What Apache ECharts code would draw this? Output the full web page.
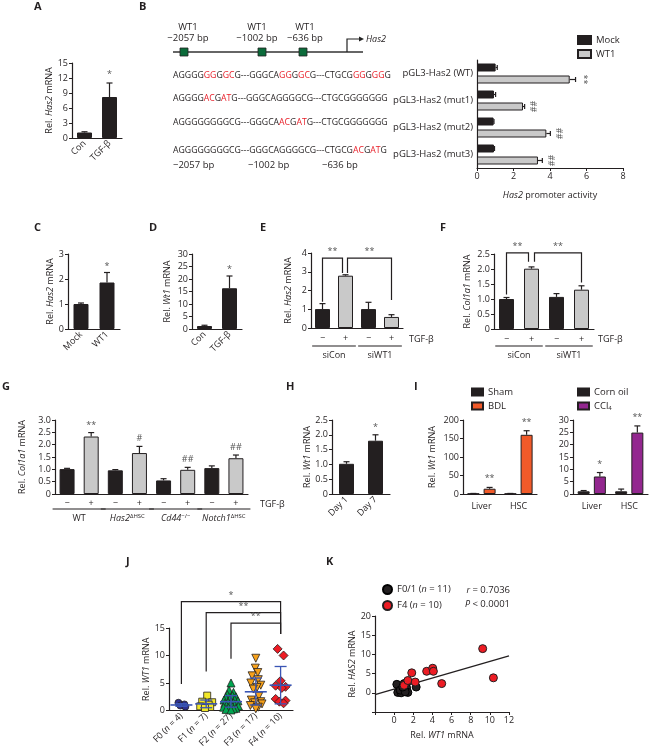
<!DOCTYPE html>
<html><head><meta charset="utf-8">
<script src="https://cdn.jsdelivr.net/npm/echarts@6/dist/echarts.min.js"></script>
<style>html,body{margin:0;padding:0;background:#fff}#c{width:650px;height:750px}</style>
</head><body><div id="c"></div>
<script>
// ================= DATA =================
// A
const aCats = ['Con', 'TGF-β'];
const aVals = [1.1, 8.2];
const aErr = [0.15, 2.8];
const aStars = ['', '*'];
// B
const bCats = ['pGL3-Has2 (WT)', 'pGL3-Has2 (mut1)', 'pGL3-Has2 (mut2)', 'pGL3-Has2 (mut3)'];
const bMock = [1.02, 0.93, 0.91, 0.93];
const bMockErr = [0.09, 0.09, 0.02, 0.03];
const bWT1 = [5.08, 2.52, 3.8, 3.34];
const bWT1Err = [0.32, 0.09, 0.22, 0.24];
const bMarks = ['**', '##', '##', '##'];
const seqRows = [
  'AGGGG{r|GG}G{r|GC}G---GGGCA{r|GG}G{r|GC}G---CTGCG{r|GG}G{r|GG}G',
  'AGGGG{r|AC}G{r|AT}G---GGGCAGGGGCG---CTGCGGGGGGG',
  'AGGGGGGGGCG---GGGCA{r|AC}G{r|AT}G---CTGCGGGGGGG',
  'AGGGGGGGGCG---GGGCAGGGGCG---CTGCG{r|AC}G{r|AT}G'
];
// C
const cCats = ['Mock', 'WT1'];
const cVals = [1.0, 1.86];
const cErr = [0.04, 0.4];
const cStars = ['', '*'];
// D
const dCats = ['Con', 'TGF-β'];
const dVals = [1.2, 16.3];
const dErr = [0.3, 4.9];
const dStars = ['', '*'];
// E
const eCats = ['−', '+', '−', '+'];
const eVals = [1.01, 2.79, 1.01, 0.59];
const eErr = [0.29, 0.05, 0.36, 0.12];
const eBrackets = [[0, 1.4, 1, 2.93, 3.73], [1, 2.93, 3, 1.5, 3.73]];
const eBracketText = ['**', '**'];
const eGroups = [[0, 1], [2, 3]];
const eGroupNames = ['siCon', 'siWT1'];
// F
const fCats = ['−', '+', '−', '+'];
const fVals = [1.0, 2.01, 1.07, 1.31];
const fErr = [0.05, 0.06, 0.11, 0.13];
const fBrackets = [[0, 1.15, 1, 2.24, 2.54], [1, 2.24, 3, 1.55, 2.54]];
const fBracketText = ['**', '**'];
const fGroups = [[0, 1], [2, 3]];
const fGroupNames = ['siCon', 'siWT1'];
// G
const gCats = ['−', '+', '−', '+', '−', '+', '−', '+'];
const gVals = [1.01, 2.33, 0.96, 1.66, 0.55, 0.98, 1.05, 1.45];
const gErr = [0.03, 0.16, 0.03, 0.27, 0.07, 0.1, 0.09, 0.13];
const gMarks = ['', '**', '', '#', '', '##', '', '##'];
const gGroups = [[0, 1], [2, 3], [4, 5], [6, 7]];
const gGroupNames = ['WT', '{i|Has2}{sup|ΔHSC}', '{i|Cd44}{sup|−/−}', '{i|Notch1}{sup|ΔHSC}'];
// H
const hCats = ['Day 1', 'Day 7'];
const hVals = [1.02, 1.8];
const hErr = [0.07, 0.2];
const hStars = ['', '*'];
// I
const iCats = ['Liver', 'HSC'];
const iSham = [1, 1];
const iShamErr = [0.5, 0.5];
const iBDL = [14.3, 160];
const iBDLErr = [3.5, 11];
const iBDLStars = ['**', '**'];
const iCorn = [1.1, 1.1];
const iCornErr = [0.3, 0.9];
const iCCl4 = [7.1, 24.9];
const iCCl4Err = [1.6, 2.7];
const iCCl4Stars = ['*', '**'];
// J
const jCats = ['F0', 'F1', 'F2', 'F3', 'F4'];
const jN = [4, 7, 27, 17, 10];
const jF0 = [1.4, 1.1, 0.9, 0.7];
const jF0dx = [-0.12, 0.12, -0.04, 0.16];
const jF1 = [2.7, 1.6, 1.5, 1.05, 0.75, 0.65, 0.45];
const jF1dx = [0.04, -0.16, 0.24, 0.1, -0.24, 0.16, -0.05];
const jF2 = [5.0, 3.7, 3.3, 2.9, 2.7, 2.5, 2.4, 2.1, 2.0, 1.9, 1.75, 1.6, 1.5, 1.4, 1.3, 1.2, 1.1, 1.0, 0.9, 0.8, 0.7, 0.6, 0.5, 0.4, 0.3, 0.2, 0.1];
const jF2dx = [0, -0.08, 0.1, -0.15, 0.06, 0.2, -0.22, -0.05, 0.15, -0.28, 0.28, 0.0, -0.12, 0.1, -0.25, 0.22, -0.02, 0.15, -0.18, 0.3, 0.05, -0.3, -0.1, 0.2, 0.1, -0.2, 0.0];
const jF3 = [9.5, 7.7, 6.9, 6.3, 5.6, 5.0, 4.6, 4.2, 3.9, 2.6, 1.9, 1.6, 1.4, 1.2, 0.9, 0.6, 0.3];
const jF3dx = [0.0, -0.02, 0.08, -0.15, 0.1, -0.2, 0.2, 0.05, -0.1, 0.12, -0.18, 0.2, -0.05, 0.25, -0.22, 0.1, 0.0];
const jF4 = [11.2, 10.0, 5.4, 4.5, 4.3, 4.1, 2.1, 1.8, 1.6, 1.3];
const jF4dx = [-0.12, 0.12, 0.0, -0.2, 0.2, 0.05, -0.2, 0.2, -0.05, 0.12];
const jMean = [1.0, 1.2, 1.6, 3.4, 4.6];
const jLo = [0.75, 0.5, 0.6, 1.0, 1.2];
const jHi = [1.25, 1.9, 2.7, 5.9, 8.0];
const jBrackets = [[0, 4.8, 4, 13.9, 19.8], [1, 7.1, 4, 13.9, 17.8], [2, 9.4, 4, 13.9, 15.9]];
const jBracketText = ['*', '**', '**'];
// K
const kF01 = [[0.28, 2.2], [0.38, 0.1], [0.73, 0.0], [1.04, 0.85], [1.04, 2.4], [1.3, 1.3], [1.43, 0.1], [2.3, 1.5], [0.63, 0.7], [1.15, 0.25], [0.9, 1.5]];
const kF4 = [[1.04, 1.95], [1.43, 3.2], [1.84, 5.2], [2.2, 2.8], [3.4, 5.6], [4.03, 6.4], [4.1, 5.6], [4.97, 2.4], [9.25, 11.5], [10.37, 3.9]];
const kFit = [[-2, -0.5], [12, 9.6]];
const kStats = ['{i|r} = 0.7036', '{i|P} < 0.0001'];

// ================= STYLE / HELPERS =================
const INK = '#231f20', DARK = '#231f20', LIGHT = '#c9c9c9', STAR = '#555';
const F = 'Open Sans';
const SEQ = 8.7;
const RICH = {
  i: {fontStyle: 'italic', fontFamily: F, fontSize: 9, color: INK, fill: INK},
  sup: {fontSize: 6, fontFamily: F, color: INK, fill: INK, verticalAlign: 'top'},
  sub: {fontSize: 6, fontFamily: F, color: INK, fill: INK, verticalAlign: 'bottom'},
  r: {fill: '#e8202a', color: '#e8202a', fontSize: SEQ, fontFamily: F}
};
const grids = [], xAxes = [], yAxes = [], series = [], legends = [], graphics = [];
function addGrid(left, top, width, height) { grids.push({left, top, width, height}); return grids.length - 1; }
function addX(ax) { xAxes.push(ax); return xAxes.length - 1; }
function addY(ax) { yAxes.push(ax); return yAxes.length - 1; }
function nameStyle() { return {fontSize: 9, color: INK, fontFamily: F, rich: RICH}; }
function valAxis(gi, min, max, interval, o = {}) {
  const ax = {type: 'value', gridIndex: gi, min, max, interval,
    axisLine: {show: true, onZero: false, lineStyle: {color: INK, width: 1.2}},
    axisTick: {show: true, length: 3, lineStyle: {color: INK, width: 1}},
    axisLabel: {fontSize: 9, color: INK, fontFamily: F, margin: 4},
    splitLine: {show: false}};
  if (o.fmt) ax.axisLabel.formatter = o.fmt;
  if (o.name) Object.assign(ax, {name: o.name, nameLocation: 'middle', nameGap: o.gap, nameRotate: o.rot, nameTextStyle: nameStyle()});
  return ax;
}
function catAxis(gi, data, o = {}) {
  const ax = {type: 'category', gridIndex: gi, data, inverse: !!o.inverse,
    axisTick: {show: false},
    axisLine: {show: true, onZero: false, lineStyle: {color: INK, width: 1.2}},
    axisLabel: {fontSize: o.fs || 9, color: INK, fontFamily: F, margin: o.margin || 4, interval: 0, rotate: o.rotate || 0, rich: RICH},
    splitLine: {show: false}};
  if (o.fmt) ax.axisLabel.formatter = o.fmt;
  return ax;
}
const fmt1 = v => (v === 0 ? '0' : v.toFixed(1));
function bars(xi, yi, vals, colors, o = {}) {
  return Object.assign({type: 'bar', xAxisIndex: xi, yAxisIndex: yi, barWidth: 15, silent: true,
    data: vals.map((v, k) => ({value: v, itemStyle: {color: colors[k % colors.length]}})),
    itemStyle: {borderColor: INK, borderWidth: 1}}, o);
}
function errV(xi, yi, vals, errs, off = 0, cap = 3) {
  return {type: 'custom', xAxisIndex: xi, yAxisIndex: yi, z: 3, silent: true,
    data: vals.map((v, k) => [k, v, v + errs[k]]),
    renderItem: (p, api) => {
      const a = api.coord([api.value(0), api.value(1)]), b = api.coord([api.value(0), api.value(2)]);
      const x = a[0] + off;
      return {type: 'group', children: [
        {type: 'line', shape: {x1: x, y1: a[1], x2: x, y2: b[1]}, style: {stroke: INK, lineWidth: 1.2}},
        {type: 'line', shape: {x1: x - cap, y1: b[1], x2: x + cap, y2: b[1]}, style: {stroke: INK, lineWidth: 1.2}}]};
    }};
}
function errH(xi, yi, vals, errs, off = 0, cap = 3) {
  return {type: 'custom', xAxisIndex: xi, yAxisIndex: yi, z: 3, silent: true,
    data: vals.map((v, k) => [v, k, v + errs[k]]),
    renderItem: (p, api) => {
      const a = api.coord([api.value(0), api.value(1)]), b = api.coord([api.value(2), api.value(1)]);
      const y = a[1] + off;
      return {type: 'group', children: [
        {type: 'line', shape: {x1: a[0], y1: y, x2: b[0], y2: y}, style: {stroke: INK, lineWidth: 1.2}},
        {type: 'line', shape: {x1: b[0], y1: y - cap, x2: b[0], y2: y + cap}, style: {stroke: INK, lineWidth: 1.2}}]};
    }};
}
function tStyle(text, o = {}) {
  const al = o.align || 'left', va = o.va || 'middle';
  return {text, fill: o.fill || INK, fontSize: o.fs || 9, fontFamily: F,
    fontStyle: o.italic ? 'italic' : 'normal', fontWeight: o.bold ? 'bold' : 'normal',
    align: al, textAlign: al, verticalAlign: va, textVerticalAlign: va, rich: RICH};
}
function marks(xi, yi, pts, texts, o = {}) {
  return {type: 'custom', xAxisIndex: xi, yAxisIndex: yi, z: 4, silent: true, clip: false,
    data: pts,
    renderItem: (p, api) => {
      const t = texts[p.dataIndex];
      if (!t) return null;
      const c = api.coord([api.value(0), api.value(1)]);
      return {type: 'text', x: c[0] + (o.dx || 0), y: c[1] + (o.dy === undefined ? -1 : o.dy), rotation: o.rot || 0,
        style: tStyle(t, {fill: STAR, align: 'center', va: o.va || 'bottom', fs: 9})};
    }};
}
function brackets(xi, yi, rows, texts, dxs) {
  return {type: 'custom', xAxisIndex: xi, yAxisIndex: yi, z: 4, silent: true, clip: false,
    data: rows,
    renderItem: (p, api) => {
      const d = dxs ? dxs[p.dataIndex] : [0, 0];
      const c1 = api.coord([api.value(0), api.value(1)]), c2 = api.coord([api.value(2), api.value(3)]);
      const t = api.coord([api.value(0), api.value(4)]);
      const x1 = c1[0] + d[0], x2 = c2[0] + d[1], yt = t[1];
      return {type: 'group', children: [
        {type: 'polyline', shape: {points: [[x1, c1[1]], [x1, yt], [x2, yt], [x2, c2[1]]]}, style: {stroke: INK, lineWidth: 1.2, fill: null}},
        {type: 'text', x: (x1 + x2) / 2, y: yt - 2, style: tStyle(texts[p.dataIndex], {fill: STAR, align: 'center', va: 'bottom'})}]};
    }};
}
function groupLabels(xi, yi, spans, names, o) {
  return {type: 'custom', xAxisIndex: xi, yAxisIndex: yi, silent: true, clip: false,
    data: spans,
    renderItem: (p, api) => {
      const a = api.coord([api.value(0), 0]), b = api.coord([api.value(1), 0]);
      const bw = api.size([1, 0])[0];
      const y0 = a[1];
      const ch = [
        {type: 'line', shape: {x1: a[0] - bw * o.ext, y1: y0 + o.lineDy, x2: b[0] + bw * o.ext, y2: y0 + o.lineDy}, style: {stroke: INK, lineWidth: 1.2}},
        {type: 'text', x: (a[0] + b[0]) / 2, y: y0 + o.textDy, style: tStyle(names[p.dataIndex], {align: 'center', va: 'middle'})}];
      if (p.dataIndex === spans.length - 1)
        ch.push({type: 'text', x: b[0] + bw * 0.5 + o.tgfDx, y: y0 + o.tgfDy, style: tStyle('TGF-β', {align: 'left', va: 'middle'})});
      return {type: 'group', children: ch};
    }};
}
const tops = (v, e) => v.map((x, k) => [k, x + e[k]]);
const topsH = (v, e) => v.map((x, k) => [x + e[k], k]);

// ================= PANEL A =================
{
  const g = addGrid(72, 63, 50, 75);
  const x = addX(catAxis(g, aCats, {rotate: 45}));
  const y = addY(valAxis(g, 0, 15, 3, {name: 'Rel. {i|Has2} mRNA', gap: 14}));
  series.push(bars(x, y, aVals, [DARK]), errV(x, y, aVals, aErr), marks(x, y, tops(aVals, aErr), aStars, {dy: -4}));
}
// ================= PANEL B =================
{
  const g = addGrid(477, 60, 146, 108);
  const x = addX(valAxis(g, 0, 8, 2, {name: '{i|Has2} promoter activity', gap: 23}));
  const y = addY(catAxis(g, bCats, {inverse: true, fs: 9.5, margin: 4}));
  series.push({type: 'bar', name: 'Mock', xAxisIndex: x, yAxisIndex: y, data: bMock, barWidth: 8, barGap: '50%', silent: true,
    itemStyle: {color: DARK, borderColor: INK, borderWidth: 1}});
  series.push({type: 'bar', name: 'WT1', xAxisIndex: x, yAxisIndex: y, data: bWT1, barWidth: 8, barGap: '50%', silent: true,
    itemStyle: {color: LIGHT, borderColor: INK, borderWidth: 1}});
  series.push(errH(x, y, bMock, bMockErr, -6, 2.5), errH(x, y, bWT1, bWT1Err, 6, 2.5));
  series.push(marks(x, y, topsH(bWT1, bWT1Err), bMarks, {dx: 8, dy: 6, rot: -Math.PI / 2, va: 'middle'}));
  legends.push({left: 577, top: 35, orient: 'vertical', itemWidth: 13, itemHeight: 8, itemGap: 4, padding: 0, selectedMode: false, icon: 'rect',
    data: ['Mock', 'WT1'], textStyle: {fontSize: 9.5, color: INK, fontFamily: F}});
}
// ================= PANEL C =================
{
  const g = addGrid(68, 254, 52, 75);
  const x = addX(catAxis(g, cCats, {rotate: 45}));
  const y = addY(valAxis(g, 0, 3, 1, {name: 'Rel. {i|Has2} mRNA', gap: 13}));
  series.push(bars(x, y, cVals, [DARK]), errV(x, y, cVals, cErr), marks(x, y, tops(cVals, cErr), cStars, {dy: -2}));
}
// ================= PANEL D =================
{
  const g = addGrid(192, 254, 50, 75);
  const x = addX(catAxis(g, dCats, {rotate: 45}));
  const y = addY(valAxis(g, 0, 30, 5, {name: 'Rel. {i|Wt1} mRNA', gap: 20}));
  series.push(bars(x, y, dVals, [DARK]), errV(x, y, dVals, dErr), marks(x, y, tops(dVals, dErr), dStars, {dy: -2}));
}
// ================= PANEL E =================
{
  const g = addGrid(311, 253, 92, 75);
  const x = addX(catAxis(g, eCats, {margin: 6}));
  const y = addY(valAxis(g, 0, 4, 1, {name: 'Rel. {i|Has2} mRNA', gap: 18}));
  series.push(bars(x, y, eVals, [DARK, LIGHT]), errV(x, y, eVals, eErr));
  series.push(brackets(x, y, eBrackets, eBracketText, [[0, -3], [2, 0]]));
  series.push(groupLabels(x, y, eGroups, eGroupNames, {ext: 0.45, lineDy: 18, textDy: 27, tgfDx: 6, tgfDy: 11}));
}
// ================= PANEL F =================
{
  const g = addGrid(494, 254, 100, 75);
  const x = addX(catAxis(g, fCats, {margin: 6}));
  const y = addY(valAxis(g, 0, 2.5, 0.5, {fmt: fmt1, name: 'Rel. {i|Col1a1} mRNA', gap: 22}));
  series.push(bars(x, y, fVals, [DARK, LIGHT]), errV(x, y, fVals, fErr));
  series.push(brackets(x, y, fBrackets, fBracketText, [[0, -3], [3, 0]]));
  series.push(groupLabels(x, y, fGroups, fGroupNames, {ext: 0.45, lineDy: 17, textDy: 26, tgfDx: 4, tgfDy: 10}));
}
// ================= PANEL G =================
{
  const g = addGrid(55, 420, 193, 74);
  const x = addX(catAxis(g, gCats, {margin: 5}));
  const y = addY(valAxis(g, 0, 3, 0.5, {fmt: fmt1, name: 'Rel. {i|Col1a1} mRNA', gap: 28}));
  series.push(bars(x, y, gVals, [DARK, LIGHT]), errV(x, y, gVals, gErr), marks(x, y, tops(gVals, gErr), gMarks, {dy: -3}));
  series.push(groupLabels(x, y, gGroups, gGroupNames, {ext: 0.6, lineDy: 15, textDy: 24, tgfDx: 12, tgfDy: 10}));
}
// ================= PANEL H =================
{
  const g = addGrid(332, 420, 58, 74);
  const x = addX(catAxis(g, hCats, {rotate: 45}));
  const y = addY(valAxis(g, 0, 2.5, 0.5, {fmt: fmt1, name: 'Rel. {i|Wt1} mRNA', gap: 16}));
  series.push(bars(x, y, hVals, [DARK]), errV(x, y, hVals, hErr), marks(x, y, tops(hVals, hErr), hStars, {dy: -3}));
}
// ================= PANEL I =================
{
  const g1 = addGrid(463, 420, 74, 74);
  const x1 = addX(catAxis(g1, iCats, {margin: 8}));
  const y1 = addY(valAxis(g1, 0, 200, 50, {name: 'Rel. {i|Wt1} mRNA', gap: 26}));
  const bopt = {barWidth: 12, barGap: '35%', silent: true};
  series.push(Object.assign({type: 'bar', name: 'Sham', xAxisIndex: x1, yAxisIndex: y1, data: iSham, itemStyle: {color: DARK, borderColor: INK, borderWidth: 1}}, bopt));
  series.push(Object.assign({type: 'bar', name: 'BDL', xAxisIndex: x1, yAxisIndex: y1, data: iBDL, itemStyle: {color: '#f15a29', borderColor: INK, borderWidth: 1}}, bopt));
  series.push(errV(x1, y1, iSham, iShamErr, -8.1), errV(x1, y1, iBDL, iBDLErr, 8.1));
  series.push(marks(x1, y1, tops(iBDL, iBDLErr), iBDLStars, {dx: 8.1, dy: -4}));
  legends.push({left: 471, top: 387, orient: 'vertical', itemWidth: 11, itemHeight: 7, itemGap: 4, padding: 0, selectedMode: false, icon: 'rect',
    data: ['Sham', 'BDL'], textStyle: {fontSize: 9.5, color: INK, fontFamily: F}});

  const g2 = addGrid(573, 420, 75, 74);
  const x2 = addX(catAxis(g2, iCats, {margin: 8}));
  const y2 = addY(valAxis(g2, 0, 30, 5));
  series.push(Object.assign({type: 'bar', name: 'Corn oil', xAxisIndex: x2, yAxisIndex: y2, data: iCorn, itemStyle: {color: DARK, borderColor: INK, borderWidth: 1}}, bopt));
  series.push(Object.assign({type: 'bar', name: 'CCl4', xAxisIndex: x2, yAxisIndex: y2, data: iCCl4, itemStyle: {color: '#93278f', borderColor: INK, borderWidth: 1}}, bopt));
  series.push(errV(x2, y2, iCorn, iCornErr, -8.1), errV(x2, y2, iCCl4, iCCl4Err, 8.1));
  series.push(marks(x2, y2, tops(iCCl4, iCCl4Err), iCCl4Stars, {dx: 8.1, dy: -4}));
  legends.push({left: 577, top: 387, orient: 'vertical', itemWidth: 11, itemHeight: 7, itemGap: 4, padding: 0, selectedMode: false, icon: 'rect',
    data: ['Corn oil', 'CCl4'], formatter: n => (n === 'CCl4' ? 'CCl{sub|4}' : n),
    textStyle: {fontSize: 9.5, color: INK, fontFamily: F, rich: RICH}});
}
// ================= PANEL J =================
{
  const g = addGrid(169, 628, 124, 85);
  const x = addX(catAxis(g, jCats, {rotate: 45, fmt: (v, k) => v + ' ({i|n} = ' + jN[k] + ')'}));
  const xv = addX({type: 'value', gridIndex: g, min: -0.5, max: 4.5, show: false});
  const y = addY(valAxis(g, 0, 15, 5, {name: 'Rel. {i|WT1} mRNA', gap: 14}));
  const grp = [
    [jF0, jF0dx, 'circle', 7, '#2e3192', 0],
    [jF1, jF1dx, 'rect', 7, '#f2e829', 0],
    [jF2, jF2dx, 'triangle', 8, '#00a651', 0],
    [jF3, jF3dx, 'triangle', 8, '#f7a11a', 180],
    [jF4, jF4dx, 'diamond', 9, '#ed1c24', 0]];
  grp.forEach((gr, k) => {
    series.push({type: 'scatter', xAxisIndex: xv, yAxisIndex: y, symbol: gr[2], symbolSize: gr[3], symbolRotate: gr[5], silent: true, z: 2,
      data: gr[0].map((v, m) => [k + gr[1][m], v]),
      itemStyle: {color: gr[4], borderColor: INK, borderWidth: 0.8, opacity: 1}});
  });
  series.push({type: 'custom', xAxisIndex: x, yAxisIndex: y, z: 5, silent: true,
    data: jMean.map((m, k) => [k, m, jLo[k], jHi[k]]),
    renderItem: (p, api) => {
      const m = api.coord([api.value(0), api.value(1)]), lo = api.coord([api.value(0), api.value(2)]), hi = api.coord([api.value(0), api.value(3)]);
      const c = '#3a55b4', x0 = m[0];
      return {type: 'group', children: [
        {type: 'line', shape: {x1: x0 - 11, y1: m[1], x2: x0 + 11, y2: m[1]}, style: {stroke: c, lineWidth: 1.6}},
        {type: 'line', shape: {x1: x0, y1: lo[1], x2: x0, y2: hi[1]}, style: {stroke: c, lineWidth: 1.3}},
        {type: 'line', shape: {x1: x0 - 6, y1: lo[1], x2: x0 + 6, y2: lo[1]}, style: {stroke: c, lineWidth: 1.3}},
        {type: 'line', shape: {x1: x0 - 6, y1: hi[1], x2: x0 + 6, y2: hi[1]}, style: {stroke: c, lineWidth: 1.3}}]};
    }});
  series.push(brackets(x, y, jBrackets, jBracketText));
}
// ================= PANEL K =================
{
  const g = addGrid(375, 616, 134, 96);
  const x = addX(valAxis(g, -2, 12, 2, {fmt: v => (v < 0 ? '' : v), name: 'Rel. {i|WT1} mRNA', gap: 19}));
  const y = addY(valAxis(g, -5, 20, 5, {fmt: v => (v < 0 ? '' : v), name: 'Rel. {i|HAS2} mRNA', gap: 18}));
  series.push({type: 'line', xAxisIndex: x, yAxisIndex: y, data: kFit, symbol: 'none', silent: true, lineStyle: {color: INK, width: 1.3}, z: 1});
  series.push({type: 'scatter', name: 'F0/1', xAxisIndex: x, yAxisIndex: y, data: kF01, symbolSize: 8, silent: true, z: 3,
    itemStyle: {color: '#231f20', borderColor: '#000', borderWidth: 1, opacity: 1}});
  series.push({type: 'scatter', name: 'F4', xAxisIndex: x, yAxisIndex: y, data: kF4, symbolSize: 8, silent: true, z: 4,
    itemStyle: {color: '#ed1c24', borderColor: INK, borderWidth: 1, opacity: 1}});
  legends.push({left: 382, top: 584, orient: 'vertical', itemWidth: 9, itemHeight: 9, itemGap: 5, padding: 0, selectedMode: false,
    data: [{name: 'F0/1', icon: 'circle'}, {name: 'F4', icon: 'circle'}],
    formatter: n => (n === 'F0/1' ? 'F0/1 ({i|n} = 11)' : 'F4 ({i|n} = 10)'),
    textStyle: {fontSize: 9.5, color: INK, fontFamily: F, rich: RICH}});
  graphics.push({type: 'text', x: 510, y: 590, style: tStyle(kStats[0], {align: 'right', fs: 9.5})});
  graphics.push({type: 'text', x: 510, y: 604, style: tStyle(kStats[1], {align: 'right', fs: 9.5})});
}
// ================= ANNOTATION GRAPHICS =================
[['A', 34, 1], ['B', 139, 1], ['C', 34, 222], ['D', 149, 222], ['E', 260, 222], ['F', 440, 222],
 ['G', 2, 381], ['H', 286, 381], ['I', 414, 381], ['J', 126, 556], ['K', 326, 556]].forEach(l => {
  graphics.push({type: 'text', x: l[1], y: l[2], style: tStyle(l[0], {fs: 11, bold: true, va: 'top'})});
});
// B promoter diagram
graphics.push({type: 'line', shape: {x1: 173, y1: 52, x2: 363, y2: 52}, style: {stroke: '#333', lineWidth: 1.5}});
[184, 262, 303].forEach(cx => graphics.push({type: 'rect', shape: {x: cx - 4, y: 48, width: 8, height: 8}, style: {fill: '#0b6b3a', stroke: '#222', lineWidth: 0.8}}));
graphics.push({type: 'polyline', shape: {points: [[347, 52], [347, 39], [359, 39]]}, style: {stroke: '#222', lineWidth: 1.2, fill: null}});
graphics.push({type: 'polygon', shape: {points: [[359, 36.5], [364, 39], [359, 41.5]]}, style: {fill: '#222'}});
graphics.push({type: 'text', x: 366, y: 39, style: tStyle('Has2', {italic: true, fs: 9})});
[[188, 'WT1', '−2057 bp'], [257, 'WT1', '−1002 bp'], [305, 'WT1', '−636 bp']].forEach(w => {
  graphics.push({type: 'text', x: w[0], y: 27, style: tStyle(w[1], {align: 'center', fs: 9.5})});
  graphics.push({type: 'text', x: w[0], y: 38, style: tStyle(w[2], {align: 'center', fs: 9.5})});
});
[76, 99, 123, 151].forEach((yy, k) => graphics.push({type: 'text', x: 173, y: yy, style: tStyle(seqRows[k], {fs: SEQ})}));
[[173, '−2057 bp'], [248, '−1002 bp'], [322, '−636 bp']].forEach(b => graphics.push({type: 'text', x: b[0], y: 165, style: tStyle(b[1], {fs: 9.5})}));

const chart = echarts.init(document.getElementById('c'), null, {width: 650, height: 750});
chart.setOption({
  animation: false,
  backgroundColor: '#fff',
  textStyle: {fontFamily: F},
  grid: grids, xAxis: xAxes, yAxis: yAxes, series, legend: legends, graphic: graphics
});
</script></body></html>
